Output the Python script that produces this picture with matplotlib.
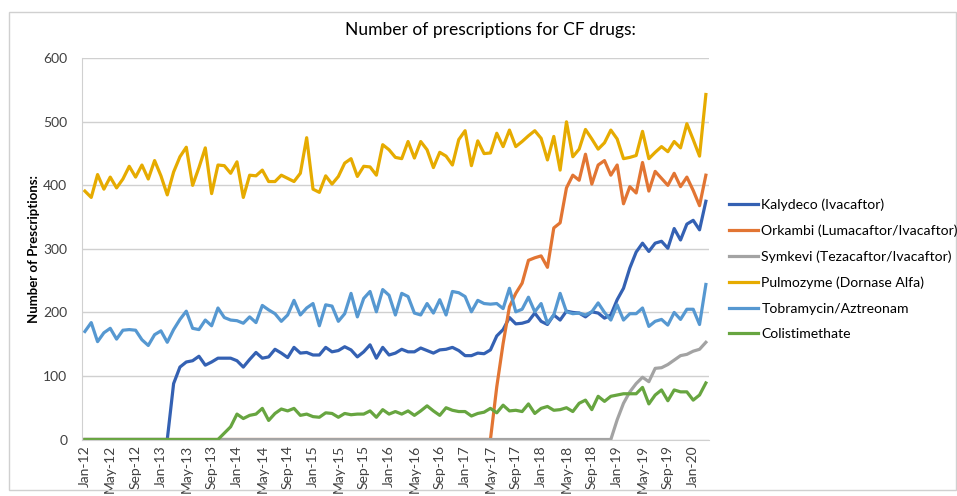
import matplotlib
matplotlib.use("Agg")
import matplotlib.pyplot as plt
from matplotlib.patches import Rectangle

# Monthly prescription counts, Jan-12 .. Mar-20
months = [f"{m}-{y:02d}" for y in range(12, 21)
          for m in ["Jan", "Feb", "Mar", "Apr", "May", "Jun",
                    "Jul", "Aug", "Sep", "Oct", "Nov", "Dec"]][:99]

kalydeco = [0] * 14 + [
    88, 114, 122, 124, 131, 117, 122, 128, 128, 128, 124, 114, 126, 137, 128, 130,
    142, 136, 129, 145, 136, 137, 133, 133, 145, 138, 140, 146, 141, 130, 138, 149,
    128, 145, 133, 136, 142, 138, 138, 144, 140, 136, 141, 142, 145, 140, 132, 132,
    136, 135, 141, 163, 173, 192, 182, 183, 186, 199, 186, 181, 196, 188, 202, 200,
    199, 193, 201, 199, 191, 196, 220, 238, 270, 295, 309, 296, 309, 312, 301, 332,
    314, 339, 345, 330, 375]

orkambi = [0] * 65 + [
    83, 151, 209, 230, 246, 282, 286, 289, 271, 333, 341, 396, 416, 408, 449, 402,
    432, 439, 416, 432, 371, 398, 388, 436, 391, 422, 411, 400, 419, 398, 413, 392,
    368, 416]

symkevi = [0] * 84 + [31, 57, 75, 88, 98, 91, 112, 113, 118, 125, 132, 134, 139, 142, 153]

pulmozyme = [
    391, 381, 417, 394, 413, 396, 410, 430, 413, 432, 410, 439, 415, 385, 421, 445,
    460, 400, 428, 459, 387, 432, 431, 419, 437, 381, 416, 415, 424, 406, 406, 416,
    411, 406, 419, 475, 394, 389, 415, 402, 414, 435, 442, 414,
    430, 429, 416, 464, 456, 444, 442, 469, 443, 469, 456, 428, 452, 446, 432, 472,
    486, 431, 470, 450, 451, 482, 461, 487,
    461, 469, 478, 486, 474, 440, 477, 424, 500, 445, 457, 488, 473, 457, 467, 487,
    473, 442, 444, 447, 485, 442, 452, 461, 453, 469, 459, 497, 472, 446, 543]

tobramycin = [
    170, 184, 154, 168, 175, 158, 172, 173, 172, 157, 148, 165, 171, 153, 173, 189,
    202, 175, 173, 188, 179, 207, 192, 188, 187, 183, 193, 184, 211, 204, 198, 186,
    196, 219, 196, 207, 214, 179, 212, 210, 186, 198, 230, 193,
    222, 233, 201, 236, 227, 196, 230, 225, 199, 196, 214, 199, 220, 196, 233, 231,
    225, 201, 219, 214, 213, 214, 206, 238, 201, 205, 224, 201, 214, 183, 196, 230,
    201, 198, 199, 196, 201, 215, 200, 188, 212, 188, 198, 198, 207, 178, 186, 189,
    180, 200, 189, 205, 205, 181, 244]

colistimethate = [0] * 22 + [
    10, 20, 40, 33, 38, 40, 49, 30, 41, 48, 45, 49, 38, 40, 36, 35, 42, 41, 35, 41,
    39, 40,
    40, 45, 35, 47, 40, 44, 40, 45, 38, 45, 53, 45, 38, 50, 46, 44, 44, 37, 41, 43,
    49, 42, 54, 45, 46, 44, 56, 41, 49, 52, 46, 47, 50, 44, 57, 62, 47, 68, 60, 68,
    70, 72, 72, 72, 82, 56, 70, 78, 61, 78, 75, 75, 62, 70, 89]

series = [
    ("Kalydeco (Ivacaftor)", kalydeco, "#3461B3"),
    ("Orkambi (Lumacaftor/Ivacaftor)", orkambi, "#E27533"),
    ("Symkevi (Tezacaftor/Ivacaftor)", symkevi, "#A3A3A3"),
    ("Pulmozyme (Dornase Alfa)", pulmozyme, "#E6AB00"),
    ("Tobramycin/Aztreonam", tobramycin, "#5698D1"),
    ("Colistimethate", colistimethate, "#67A540"),
]

plt.rcParams["font.family"] = ["Lato", "DejaVu Sans"]

fig = plt.figure(figsize=(9.57, 4.96), dpi=100)
fig.patches.append(Rectangle((9 / 957, 6 / 496), 947 / 957, 478 / 496,
                             transform=fig.transFigure, fill=False,
                             edgecolor="#D0D0D0", linewidth=1))
ax = fig.add_axes([0.0854, 0.1139, 0.6555, 0.7686])

x = list(range(len(months)))
for name, vals, col in series:
    ax.plot(x, vals, color=col, linewidth=2.3, label=name, solid_joinstyle="round")

ax.set_xlim(-0.5, len(months) - 0.5)
ax.set_ylim(0, 600)
ax.set_yticks(range(0, 601, 100))
ax.set_xticks(x[::4])
ax.set_xticklabels(months[::4], rotation=90, fontsize=10, color="#404040")
ax.tick_params(axis="y", labelsize=10, colors="#404040", length=0, pad=10.5)
ax.tick_params(axis="x", length=0, pad=4)
ax.grid(axis="y", color="#D0D0D0", linewidth=1)
ax.set_axisbelow(True)
for s in ["top", "right"]:
    ax.spines[s].set_visible(False)
ax.spines["left"].set_color("#D0D0D0")
ax.spines["bottom"].set_color("#D0D0D0")

ax.set_ylabel("Number of Prescriptions:", fontsize=9.5, fontweight="bold", labelpad=2)
fig.text(490 / 957, 1 - 30 / 496, "Number of prescriptions for CF drugs:",
         ha="center", va="center", fontsize=12.5)

fig.legend(loc="upper left", bbox_to_anchor=(729 / 957, 1 - 198 / 496),
           frameon=False, fontsize=10.1, handlelength=2.1, handletextpad=0.2,
           labelspacing=0.97, borderpad=0, borderaxespad=0)

fig.savefig("out.png", dpi=100)
